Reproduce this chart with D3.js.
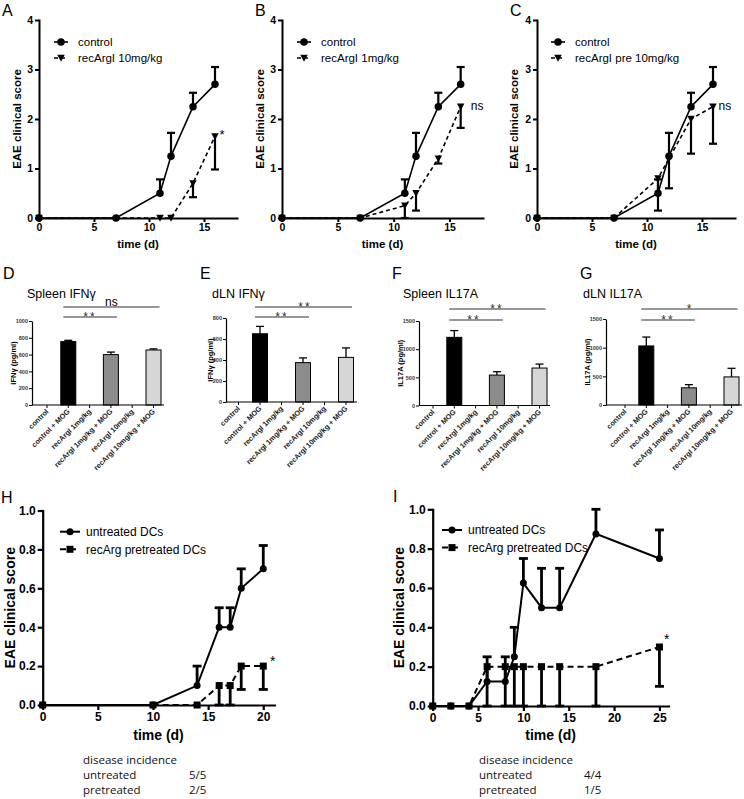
<!DOCTYPE html>
<html><head><meta charset="utf-8">
<script src="https://cdn.jsdelivr.net/npm/d3@7"></script>
<style>body{margin:0;background:#fff}svg{display:block}</style>
</head><body>
<svg id="fig" width="744" height="799"></svg>
<script>
// ---------- DATA ----------
// Panels A-C: EAE clinical score (mean, SEM)
const ctrlDays = [0, 7, 11, 12, 14, 16];
const ctrlScore = [0, 0, 0.5, 1.25, 2.25, 2.7];
const ctrlSem = [0, 0, 0.28, 0.47, 0.28, 0.35];
const aDays = [0, 11, 12, 14, 16];
const aScore = [0, 0, 0, 0.7, 1.65];
const aSem = [0, 0, 0, 0.28, 0.67];
const bDays = [0, 7, 11, 12, 14, 16];
const bScore = [0, 0, 0.25, 0.5, 1.2, 2.25];
const bSem = [0, 0, 0.25, 0.35, 0.1, 0.43];
const cDays = [0, 7, 11, 12, 14, 16];
const cScore = [0, 0, 0.8, 1.2, 2.0, 2.25];
const cSem = [0, 0, 0.65, 0.6, 0.7, 0.75];
const scoreTicksAC = [0, 1, 2, 3, 4];
const dayTicksAC = [0, 5, 10, 15];

// Panels D-G: cytokines (pg/ml)
const barCats = ["control", "control + MOG", "recArgI 1mg/kg", "recArgI 1mg/kg + MOG", "recArgI 10mg/kg", "recArgI 10mg/kg + MOG"];
const spleenIFNg = [0, 755, 0, 600, 0, 655];
const spleenIFNgSem = [0, 15, 0, 30, 0, 13];
const dlnIFNg = [0, 650, 0, 375, 0, 425];
const dlnIFNgSem = [0, 70, 0, 45, 0, 90];
const spleenIL17 = [0, 1210, 0, 540, 0, 665];
const spleenIL17Sem = [0, 120, 0, 60, 0, 70];
const dlnIL17 = [0, 1030, 0, 300, 0, 490];
const dlnIL17Sem = [0, 155, 0, 55, 0, 150];
const barFills = ["#ffffff", "#000000", "#ffffff", "#8c8c8c", "#ffffff", "#d6d6d6"];

// Panels H-I: DC transfer
const hDays = [0, 10, 14, 16, 17, 18, 20];
const hUntreated = [0, 0, 0.1, 0.4, 0.4, 0.6, 0.7];
const hUntreatedSem = [0, 0, 0.1, 0.1, 0.1, 0.1, 0.12];
const hPretreated = [0, 0, 0, 0.1, 0.1, 0.2, 0.2];
const hPretreatedSem = [0, 0, 0, 0.1, 0.1, 0.12, 0.12];
const iDays = [0, 2, 4, 6, 8, 9, 10, 12, 14, 18, 25];
const iUntreated = [0, 0, 0, 0.125, 0.125, 0.25, 0.625, 0.5, 0.5, 0.875, 0.75];
const iUntreatedSem = [0, 0, 0, 0.125, 0.125, 0.15, 0.125, 0.2, 0.2, 0.125, 0.145];
const iPretreated = [0, 0, 0, 0.2, 0.2, 0.2, 0.2, 0.2, 0.2, 0.2, 0.3];
const iPretreatedSem = [0, 0, 0, 0.2, 0.2, 0.2, 0.2, 0.2, 0.2, 0.2, 0.2];
const scoreTicksHI = [0, 0.2, 0.4, 0.6, 0.8, 1.0];
const dayTicksH = [0, 5, 10, 15, 20];
const dayTicksI = [0, 5, 10, 15, 20, 25];
const incidenceGroups = ["untreated", "pretreated"];
const hIncidence = ["5/5", "2/5"];
const iIncidence = ["4/4", "1/5"];

// ---------- DRAWING ----------
const svg = d3.select("#fig");
const FONT = "'Liberation Sans', Arial, sans-serif";

function marker(g, type, cx, cy, s) {
  if (type === "circle") g.append("circle").attr("cx", cx).attr("cy", cy).attr("r", s / 2).attr("fill", "#000");
  else if (type === "square") g.append("rect").attr("x", cx - s / 2).attr("y", cy - s / 2).attr("width", s).attr("height", s).attr("fill", "#000");
  else g.append("path").attr("d", `M${-s/2},${-s*0.42}L${s/2},${-s*0.42}L0,${s*0.5}Z`).attr("transform", `translate(${cx},${cy})`).attr("fill", "#000");
}

function styleAxis(a, w, fs) {
  a.select(".domain").attr("stroke-width", w).attr("stroke-linecap", "square");
  a.selectAll(".tick line").attr("stroke-width", w);
  a.selectAll(".tick text").attr("font-family", FONT).attr("font-weight", "bold").attr("font-size", fs).attr("fill", "#000");
}

function linePanel(c) {
  const x = d3.scaleLinear().domain(c.xDomain).range([c.left, c.right]);
  const y = d3.scaleLinear().domain(c.yDomain).range([c.bottom, c.top]);
  const g = svg.append("g").attr("font-family", FONT).attr("fill", "#000");
  const ax = g.append("g").attr("transform", `translate(0,${c.bottom})`)
    .call(d3.axisBottom(x).tickValues(c.xTicks).tickSize(c.tick).tickSizeOuter(0).tickPadding(2).tickFormat(d3.format("d")));
  styleAxis(ax, c.axisW, c.tickFs);
  const ay = g.append("g").attr("transform", `translate(${c.left},0)`)
    .call(d3.axisLeft(y).tickValues(c.yTicks).tickSize(c.tick).tickSizeOuter(0).tickPadding(2).tickFormat(c.yFmt));
  styleAxis(ay, c.axisW, c.tickFs);
  g.append("text").attr("x", (c.left + c.right) / 2).attr("y", c.xLabelY).attr("text-anchor", "middle")
    .attr("font-weight", "bold").attr("font-size", c.labFs).text("time (d)");
  g.append("text").attr("transform", `translate(${c.yLabelX},${(c.top + c.bottom) / 2}) rotate(-90)`).attr("text-anchor", "middle")
    .attr("font-weight", "bold").attr("font-size", c.labFs).text("EAE clinical score");
  g.append("text").attr("x", c.letterX).attr("y", c.letterY).attr("font-size", c.letterFs).text(c.letter);

  c.series.forEach(s => {
    const pts = s.days.map((d, i) => ({ d, v: s.vals[i], e: s.sem[i] }));
    pts.forEach(p => {
      if (p.e > 0) {
        const xe = x(p.d), ye = y(p.v + s.dir * p.e);
        g.append("line").attr("x1", xe).attr("x2", xe).attr("y1", y(p.v)).attr("y2", ye).attr("stroke", "#000").attr("stroke-width", c.ebW);
        g.append("line").attr("x1", xe - c.capW / 2).attr("x2", xe + c.capW / 2).attr("y1", ye).attr("y2", ye).attr("stroke", "#000").attr("stroke-width", c.ebW);
      }
    });
    g.append("path").datum(pts).attr("d", d3.line().x(p => x(p.d)).y(p => y(p.v)))
      .attr("fill", "none").attr("stroke", "#000").attr("stroke-width", c.lineW).attr("stroke-dasharray", s.dash ? c.dash : null);
    pts.forEach(p => marker(g, s.marker, x(p.d), y(p.v), c.mSize));
  });
  // legend
  c.series.forEach((s, i) => {
    const ly = c.legY + i * c.legDy;
    g.append("line").attr("x1", c.legX).attr("x2", c.legX + c.legLen).attr("y1", ly).attr("y2", ly)
      .attr("stroke", "#000").attr("stroke-width", c.lineW).attr("stroke-dasharray", s.dash ? c.dash : null);
    marker(g, s.marker, c.legX + c.legLen / 2, ly, c.mSize);
    g.append("text").attr("x", c.legX + c.legLen + c.legGap).attr("y", ly).attr("dy", "0.35em").attr("font-size", c.legFs).text(s.name);
  });
  // significance note
  g.append("text").attr("x", x(c.note.day)).attr("y", y(c.note.score)).attr("font-size", c.note.fs).attr("fill", "#000").text(c.note.text);
}

const acCommon = { xDomain: [0, 18], yDomain: [0, 4], top: 20, bottom: 218, xTicks: dayTicksAC, yTicks: scoreTicksAC,
  yFmt: d3.format("d"), tick: 4, axisW: 2, tickFs: 10.5, labFs: 11.5, xLabelY: 248, letterY: 16, letterFs: 16,
  lineW: 1.6, ebW: 2.2, capW: 8, dash: "4,3", mSize: 7.5, legY: 42, legDy: 16, legLen: 14, legGap: 10, legFs: 11.5 };

linePanel(Object.assign({}, acCommon, { left: 39, right: 237, yLabelX: 21, letterX: 2, letter: "A", legX: 54,
  series: [
    { name: "control", days: ctrlDays, vals: ctrlScore, sem: ctrlSem, dir: 1, marker: "circle", dash: false },
    { name: "recArgI 10mg/kg", days: aDays, vals: aScore, sem: aSem, dir: -1, marker: "tri", dash: true }],
  note: { day: 16.4, score: 1.6, text: "*", fs: 13 } }));

linePanel(Object.assign({}, acCommon, { left: 282, right: 483, yLabelX: 264, letterX: 255, letter: "B", legX: 297,
  series: [
    { name: "control", days: ctrlDays, vals: ctrlScore, sem: ctrlSem, dir: 1, marker: "circle", dash: false },
    { name: "recArgI 1mg/kg", days: bDays, vals: bScore, sem: bSem, dir: -1, marker: "tri", dash: true }],
  note: { day: 16.9, score: 2.18, text: "ns", fs: 12 } }));

linePanel(Object.assign({}, acCommon, { left: 537, right: 735, yLabelX: 518, letterX: 510, letter: "C", legX: 551,
  series: [
    { name: "control", days: ctrlDays, vals: ctrlScore, sem: ctrlSem, dir: 1, marker: "circle", dash: false },
    { name: "recArgI pre 10mg/kg", days: cDays, vals: cScore, sem: cSem, dir: -1, marker: "tri", dash: true }],
  note: { day: 16.5, score: 2.18, text: "ns", fs: 12 } }));

// ---------- bar panels ----------
function barPanel(c) {
  const x = d3.scalePoint().domain(barCats).range([c.first, c.last]);
  const y = d3.scaleLinear().domain([0, c.max]).range([c.bottom, c.top]);
  const g = svg.append("g").attr("font-family", FONT).attr("fill", "#000");
  const bw = 15;
  g.append("text").attr("x", c.letterX).attr("y", 279).attr("font-size", 16).text(c.letter);
  g.append("text").attr("x", c.titleX).attr("y", 298).attr("font-size", 12.5).text(c.title);
  // bars
  barCats.forEach((k, i) => {
    if (c.vals[i] > 0) {
      const cx = x(k);
      g.append("line").attr("x1", cx).attr("x2", cx).attr("y1", y(c.vals[i])).attr("y2", y(c.vals[i] + c.sem[i])).attr("stroke", "#000").attr("stroke-width", 1.3);
      g.append("line").attr("x1", cx - 4).attr("x2", cx + 4).attr("y1", y(c.vals[i] + c.sem[i])).attr("y2", y(c.vals[i] + c.sem[i])).attr("stroke", "#000").attr("stroke-width", 1.3);
      g.append("rect").attr("x", cx - bw / 2).attr("y", y(c.vals[i])).attr("width", bw).attr("height", c.bottom - y(c.vals[i]))
        .attr("fill", barFills[i]).attr("stroke", "#000").attr("stroke-width", 1);
    }
  });
  // axes
  g.append("line").attr("x1", c.axisX).attr("x2", c.axisEnd).attr("y1", c.bottom).attr("y2", c.bottom).attr("stroke", "#000").attr("stroke-width", 1.2);
  barCats.forEach(k => g.append("line").attr("x1", x(k)).attr("x2", x(k)).attr("y1", c.bottom).attr("y2", c.bottom + 3).attr("stroke", "#000").attr("stroke-width", 1));
  const ay = g.append("g").attr("transform", `translate(${c.axisX},0)`)
    .call(d3.axisLeft(y).tickValues(c.ticks).tickSize(3).tickSizeOuter(0).tickPadding(1).tickFormat(d3.format("d")));
  ay.select(".domain").attr("stroke-width", 1.2);
  ay.selectAll(".tick text").attr("font-family", FONT).attr("font-weight", "bold").attr("font-size", 5.5).attr("fill", "#333");
  g.append("text").attr("transform", `translate(${c.yLabelX},${(c.top + c.bottom) / 2}) rotate(-90)`).attr("text-anchor", "middle")
    .attr("font-weight", "bold").attr("font-size", 7.5).text(c.yLabel);
  barCats.forEach(k => g.append("text").attr("transform", `translate(${x(k) + 2},${c.bottom + 7}) rotate(-45)`)
    .attr("text-anchor", "end").attr("font-weight", "bold").attr("font-size", 7.3).attr("fill", "#222").text(k));
  // significance bars
  c.sig.forEach(s => {
    const x1 = x(barCats[s.from]) - 5, x2 = x(barCats[s.to]) + 6;
    g.append("line").attr("x1", x1).attr("x2", x2).attr("y1", s.y).attr("y2", s.y).attr("stroke", "#333").attr("stroke-width", 1.2);
    if (s.text === "ns") g.append("text").attr("x", (x1 + x2) / 2).attr("y", s.y - 1.5).attr("text-anchor", "middle").attr("font-size", 12).attr("fill", "#000").text("ns");
    else g.append("text").attr("x", s.tx).attr("y", s.y + 4).attr("text-anchor", "middle").attr("font-size", 12).attr("letter-spacing", 2).attr("fill", "#333").text(s.text);
  });
}

barPanel({ letter: "D", letterX: 3, title: "Spleen IFNγ", titleX: 27, axisX: 32, axisEnd: 164, first: 47, last: 153.5,
  top: 321, bottom: 405, max: 1000, ticks: [0, 200, 400, 600, 800, 1000], vals: spleenIFNg, sem: spleenIFNgSem,
  yLabel: "IFNγ (pg/ml)", yLabelX: 16,
  sig: [{ from: 1, to: 5, y: 307, text: "ns" }, { from: 1, to: 3, y: 317, text: "**", tx: 90 }] });
barPanel({ letter: "E", letterX: 200, title: "dLN IFNγ", titleX: 212, axisX: 226, axisEnd: 357, first: 238.5, last: 346,
  top: 318, bottom: 402, max: 800, ticks: [0, 200, 400, 600, 800], vals: dlnIFNg, sem: dlnIFNgSem,
  yLabel: "IFNγ (pg/ml)", yLabelX: 213,
  sig: [{ from: 1, to: 5, y: 307, text: "**", tx: 305 }, { from: 1, to: 3, y: 317, text: "**", tx: 282 }] });
barPanel({ letter: "F", letterX: 392, title: "Spleen IL17A", titleX: 403, axisX: 419, axisEnd: 550, first: 433, last: 539.5,
  top: 321, bottom: 405.5, max: 1500, ticks: [0, 500, 1000, 1500], vals: spleenIL17, sem: spleenIL17Sem,
  yLabel: "IL17A (pg/ml)", yLabelX: 403,
  sig: [{ from: 1, to: 5, y: 309, text: "**", tx: 497 }, { from: 1, to: 3, y: 320, text: "**", tx: 474 }] });
barPanel({ letter: "G", letterX: 580, title: "dLN IL17A", titleX: 583, axisX: 606, axisEnd: 742, first: 625, last: 731.5,
  top: 319, bottom: 405, max: 1500, ticks: [0, 500, 1000, 1500], vals: dlnIL17, sem: dlnIL17Sem,
  yLabel: "IL17A (pg/ml)", yLabelX: 590,
  sig: [{ from: 1, to: 5, y: 309, text: "*", tx: 690 }, { from: 1, to: 3, y: 320, text: "**", tx: 668 }] });

// ---------- H and I ----------
const hiCommon = { yDomain: [0, 1], top: 510.5, bottom: 705, yTicks: scoreTicksHI, yFmt: d3.format(".1f"),
  tick: 5, axisW: 2.2, tickFs: 12, labFs: 14, xLabelY: 740, letterFs: 16,
  lineW: 2, ebW: 2.8, capW: 9, dash: "6,4", mSize: 7, legDy: 17.6, legLen: 20, legGap: 6, legFs: 12 };

linePanel(Object.assign({}, hiCommon, { xDomain: [0, 21], left: 42.7, right: 274.3, xTicks: dayTicksH,
  yLabelX: 15, letterX: 1, letterY: 503, letter: "H", legX: 60, legY: 531.7,
  series: [
    { name: "untreated DCs", days: hDays, vals: hUntreated, sem: hUntreatedSem, dir: 1, marker: "circle", dash: false },
    { name: "recArg pretreated DCs", days: hDays, vals: hPretreated, sem: hPretreatedSem, dir: -1, marker: "square", dash: true }],
  note: { day: 20.6, score: 0.2, text: "*", fs: 14 } }));

linePanel(Object.assign({}, hiCommon, { xDomain: [0, 26], left: 432.7, right: 668.5, xTicks: dayTicksI, top: 509.3, bottom: 706,
  yLabelX: 404, letterX: 393, letterY: 502, letter: "I", legX: 442, legY: 530,
  series: [
    { name: "untreated DCs", days: iDays, vals: iUntreated, sem: iUntreatedSem, dir: 1, marker: "circle", dash: false },
    { name: "recArg pretreated DCs", days: iDays, vals: iPretreated, sem: iPretreatedSem, dir: -1, marker: "square", dash: true }],
  note: { day: 25.5, score: 0.315, text: "*", fs: 14 } }));

// disease incidence tables
function incidence(x0, x1, vals) {
  const g = svg.append("g").attr("font-family", "'Open Sans', 'Noto Sans', sans-serif").attr("font-size", 11.5).attr("fill", "#111");
  g.append("text").attr("x", x0).attr("y", 764).text("disease incidence");
  incidenceGroups.forEach((k, i) => {
    g.append("text").attr("x", x0).attr("y", 779 + i * 15).text(k);
    g.append("text").attr("x", x1).attr("y", 779 + i * 15).text(vals[i]);
  });
}
incidence(83, 189, hIncidence);
incidence(479, 584, iIncidence);
</script>
</body></html>
